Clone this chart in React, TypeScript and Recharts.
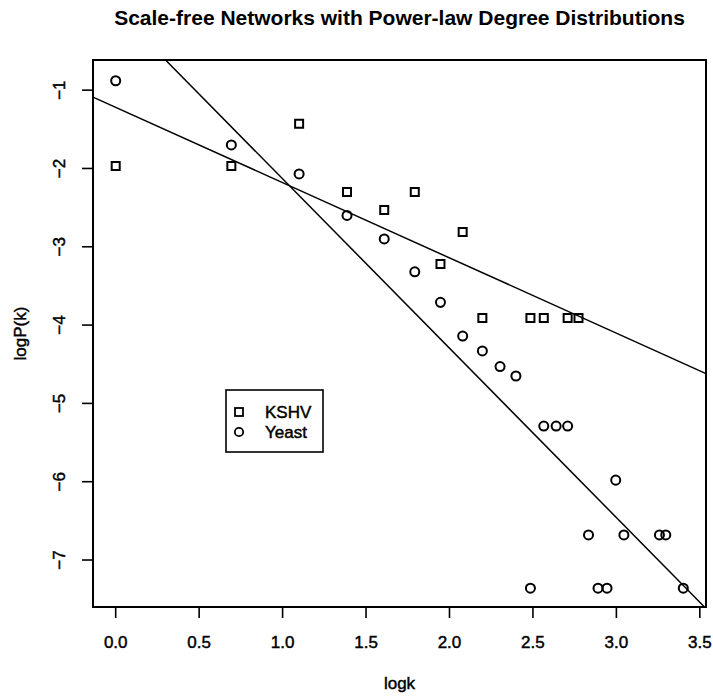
import React from 'react';
import {
  ScatterChart,
  Scatter,
  XAxis,
  YAxis,
  ZAxis,
  ReferenceLine,
  ReferenceArea,
  Legend,
} from 'recharts';

// log(k) vs log(P(k))
const kshvX = [0, 0.693, 1.099, 1.386, 1.609, 1.792, 1.946, 2.079, 2.197, 2.485, 2.565, 2.708, 2.773];
const kshvY = [-1.97, -1.97, -1.43, -2.3, -2.53, -2.3, -3.22, -2.81, -3.91, -3.91, -3.91, -3.91, -3.91];

const yeastX = [
  0, 0.693, 1.099, 1.386, 1.609, 1.792, 1.946, 2.079, 2.197, 2.303, 2.398, 2.485, 2.565, 2.639,
  2.708, 2.833, 2.89, 2.944, 2.996, 3.045, 3.258, 3.296, 3.401,
];
const yeastY = [
  -0.88, -1.7, -2.07, -2.6, -2.9, -3.32, -3.71, -4.14, -4.33, -4.53, -4.65, -7.36, -5.29, -5.29,
  -5.29, -6.68, -7.36, -7.36, -5.98, -6.68, -6.68, -6.68, -7.36,
];

// fitted regression lines: y = intercept + slope * x
const kshvFit = { intercept: -1.22, slope: -0.961 };
const yeastFit = { intercept: 0.031, slope: -2.163 };

const xTicks = [0, 0.5, 1, 1.5, 2, 2.5, 3, 3.5];
const yTicks = [-7, -6, -5, -4, -3, -2, -1];

const X_DOMAIN: [number, number] = [-0.136, 3.537];
const Y_DOMAIN: [number, number] = [-7.6, -0.615];

const FONT = '"Liberation Sans", Arial, Helvetica, sans-serif';
// scanned original has slightly heavy text
const textProps = { fontSize: 17, fontFamily: FONT, fill: '#000', stroke: '#000', strokeWidth: 0.45 };

const kshvData = kshvX.map((x, i) => ({ x, y: kshvY[i] }));
const yeastData = yeastX.map((x, i) => ({ x, y: yeastY[i] }));

// clip a fitted line to the plotting region
function fitSegment(fit: { intercept: number; slope: number }) {
  const f = (x: number) => fit.intercept + fit.slope * x;
  let x0 = X_DOMAIN[0];
  let y0 = f(x0);
  if (y0 > Y_DOMAIN[1]) {
    x0 = (Y_DOMAIN[1] - fit.intercept) / fit.slope;
    y0 = Y_DOMAIN[1];
  }
  let x1 = X_DOMAIN[1];
  let y1 = f(x1);
  if (y1 < Y_DOMAIN[0]) {
    x1 = (Y_DOMAIN[0] - fit.intercept) / fit.slope;
    y1 = Y_DOMAIN[0];
  }
  return [
    { x: x0, y: y0 },
    { x: x1, y: y1 },
  ];
}

const XTick = ({ x, y, payload }: any) => (
  <text x={x} y={y + 22} textAnchor="middle" dominantBaseline="central" {...textProps}>
    {Number(payload.value).toFixed(1)}
  </text>
);

const YTick = ({ x, y, payload }: any) => (
  <text
    x={x - 20}
    y={y}
    transform={`rotate(-90 ${x - 20} ${y})`}
    textAnchor="middle"
    dominantBaseline="central"
    {...textProps}
  >
    {String(payload.value).replace('-', '\u2212')}
  </text>
);

const LegendBox = () => (
  <svg width={100} height={65} style={{ display: 'block' }}>
    <rect x={1} y={1} width={97} height={62} fill="#fff" stroke="#000" strokeWidth={1.6} />
    <rect x={10} y={19} width={8} height={8} fill="none" stroke="#000" strokeWidth={1.8} />
    <circle cx={14} cy={43} r={4.2} fill="none" stroke="#000" strokeWidth={1.8} />
    <text x={40} y={23} dominantBaseline="central" {...textProps}>
      KSHV
    </text>
    <text x={40} y={43} dominantBaseline="central" {...textProps}>
      Yeast
    </text>
  </svg>
);

export default function App() {
  return (
    <div style={{ position: 'absolute', left: 0, top: 0, width: 713, height: 697, background: '#fff' }}>
      <div
        style={{
          position: 'absolute',
          left: 93,
          width: 613,
          top: 6,
          textAlign: 'center',
          fontFamily: FONT,
          fontWeight: 'bold',
          fontSize: 21,
          lineHeight: '24px',
          color: '#000',
        }}
      >
        Scale-free Networks with Power-law Degree Distributions
      </div>
      <ScatterChart width={713} height={697} margin={{ top: 60, right: 7, bottom: 30, left: 33 }}>
        <XAxis
          type="number"
          dataKey="x"
          domain={X_DOMAIN}
          ticks={xTicks}
          allowDataOverflow
          axisLine={false}
          tickSize={11}
          tickLine={{ stroke: '#000', strokeWidth: 1.6 }}
          tick={<XTick />}
          height={60}
          label={{
            content: ({ viewBox }: any) => (
              <text
                x={viewBox.x + viewBox.width / 2}
                y={683}
                textAnchor="middle"
                dominantBaseline="central"
                {...textProps}
              >
                logk
              </text>
            ),
          }}
        />
        <YAxis
          type="number"
          dataKey="y"
          domain={Y_DOMAIN}
          ticks={yTicks}
          allowDataOverflow
          axisLine={false}
          tickSize={11}
          tickLine={{ stroke: '#000', strokeWidth: 1.6 }}
          tick={<YTick />}
          width={60}
          label={{
            content: ({ viewBox }: any) => {
              const cy = viewBox.y + viewBox.height / 2;
              return (
                <text
                  x={20}
                  y={cy}
                  transform={`rotate(-90 20 ${cy})`}
                  textAnchor="middle"
                  dominantBaseline="central"
                  {...textProps}
                >
                  logP(k)
                </text>
              );
            },
          }}
        />
        <ZAxis range={[64, 64]} />
        <ReferenceArea
          x1={X_DOMAIN[0]}
          x2={X_DOMAIN[1]}
          y1={Y_DOMAIN[0]}
          y2={Y_DOMAIN[1]}
          fill="none"
          fillOpacity={0}
          stroke="#000"
          strokeWidth={2}
          ifOverflow="visible"
        />
        <ReferenceLine segment={fitSegment(kshvFit)} stroke="#000" strokeWidth={1.5} ifOverflow="visible" />
        <ReferenceLine segment={fitSegment(yeastFit)} stroke="#000" strokeWidth={1.5} ifOverflow="visible" />
        <Scatter
          name="KSHV"
          data={kshvData}
          shape="square"
          fill="none"
          stroke="#000"
          strokeWidth={2}
          isAnimationActive={false}
        />
        <Scatter
          name="Yeast"
          data={yeastData}
          shape="circle"
          fill="none"
          stroke="#000"
          strokeWidth={2}
          isAnimationActive={false}
        />
        <Legend
          layout="vertical"
          align="center"
          verticalAlign="middle"
          content={<LegendBox />}
          wrapperStyle={{ left: 225, top: 389, width: 100, height: 65 }}
        />
      </ScatterChart>
    </div>
  );
}
